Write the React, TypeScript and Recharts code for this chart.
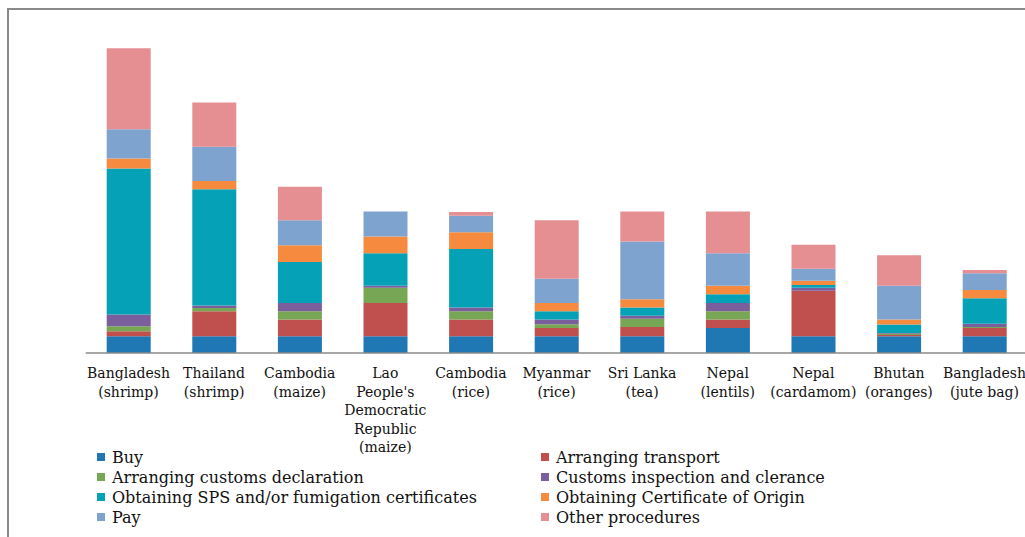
import React from "react";
import { BarChart, Bar, XAxis, YAxis } from "recharts";

// Export products, each bar broken down by procedure (days)
const categories = [
  "Bangladesh\n(shrimp)",
  "Thailand\n(shrimp)",
  "Cambodia\n(maize)",
  "Lao\nPeople's\nDemocratic\nRepublic\n(maize)",
  "Cambodia\n(rice)",
  "Myanmar\n(rice)",
  "Sri Lanka\n(tea)",
  "Nepal\n(lentils)",
  "Nepal\n(cardamom)",
  "Bhutan\n(oranges)",
  "Bangladesh\n(jute bag)",
];

const buy = [2, 2, 2, 2, 2, 2, 2, 3, 2, 2, 2];
const transport = [0.6, 3, 2, 4, 2, 1, 1.1, 1, 5.45, 0.15, 1];
const declaration = [0.6, 0.4, 1, 1.8, 1, 0.45, 1, 1, 0, 0.15, 0.1];
const inspection = [1.4, 0.3, 1, 0.25, 0.45, 0.55, 0.35, 1, 0.35, 0.1, 0.4];
const sps = [17.5, 13.9, 4.9, 3.9, 7, 1, 1, 1.05, 0.35, 1, 3.05];
const origin = [1.2, 1, 2, 2, 2, 1, 1, 1, 0.5, 0.6, 1];
const pay = [3.5, 4.1, 3, 3, 2, 2.9, 6.9, 3.9, 1.45, 4.05, 2];
const other = [9.7, 5.3, 4, 0, 0.45, 7, 3.6, 5, 2.85, 3.65, 0.4];

const series = [
  { key: "buy", name: "Buy", color: "#1f77b4", values: buy },
  { key: "transport", name: "Arranging transport", color: "#c0504d", values: transport },
  { key: "declaration", name: "Arranging customs declaration", color: "#77a755", values: declaration },
  { key: "inspection", name: "Customs inspection and clerance", color: "#7b5e9c", values: inspection },
  { key: "sps", name: "Obtaining SPS and/or fumigation certificates", color: "#05a2b7", values: sps },
  { key: "origin", name: "Obtaining Certificate of Origin", color: "#f68a3e", values: origin },
  { key: "pay", name: "Pay", color: "#7ea3cf", values: pay },
  { key: "other", name: "Other procedures", color: "#e58f93", values: other },
];

const data = categories.map((name, i) => {
  const row: Record<string, string | number> = { name };
  series.forEach((s) => {
    row[s.key] = s.values[i];
  });
  return row;
});

const FONT = "'DejaVu Serif', serif";

function CategoryTick(props: any) {
  const { x, y, payload } = props;
  const lines = String(payload.value).split("\n");
  return (
    <text x={x} y={y} textAnchor="middle" fill="#111" fontSize={14} fontFamily={FONT}>
      {lines.map((line, i) => (
        <tspan key={i} x={x} y={y + 17 + i * 18.5}>
          {line}
        </tspan>
      ))}
    </text>
  );
}

// legend runs left-to-right in two columns
function LegendBlock() {
  return (
    <div
      style={{
        position: "absolute",
        left: 97,
        top: 447,
        width: 900,
        display: "grid",
        gridTemplateColumns: "444px 444px",
        rowGap: 0,
        fontFamily: FONT,
        fontSize: 16,
        color: "#111",
      }}
    >
      {series.map((s) => (
        <div key={s.key} style={{ display: "flex", alignItems: "center", height: 20 }}>
          <span
            style={{
              display: "inline-block",
              width: 8,
              height: 8,
              background: s.color,
              marginRight: 7,
            }}
          />
          <span>{s.name}</span>
        </div>
      ))}
    </div>
  );
}

export default function App() {
  return (
    <div
      style={{
        position: "absolute",
        left: 0,
        top: 0,
        width: 1025,
        height: 537,
        overflow: "hidden",
        background: "#fff",
      }}
    >
      <div
        style={{
          position: "absolute",
          left: 7,
          top: 8,
          width: 1100,
          height: 600,
          borderLeft: "2px solid #8a8a8a",
          borderTop: "2px solid #8a8a8a",
        }}
      />
      <div style={{ position: "absolute", left: 0, top: 0 }}>
        <BarChart
          width={1040}
          height={537}
          data={data}
          margin={{ top: 19, right: 12.7, left: 85.7, bottom: 84 }}
        >
          <XAxis
            dataKey="name"
            interval={0}
            height={100}
            tickLine={false}
            axisLine={{ stroke: "#8a8a8a", strokeWidth: 1.5 }}
            tick={<CategoryTick />}
          />
          <YAxis hide domain={[0, 40]} />
          {series.map((s) => (
            <Bar
              key={s.key}
              dataKey={s.key}
              name={s.name}
              stackId="days"
              fill={s.color}
              barSize={44}
              isAnimationActive={false}
            />
          ))}
        </BarChart>
      </div>
      <LegendBlock />
    </div>
  );
}
